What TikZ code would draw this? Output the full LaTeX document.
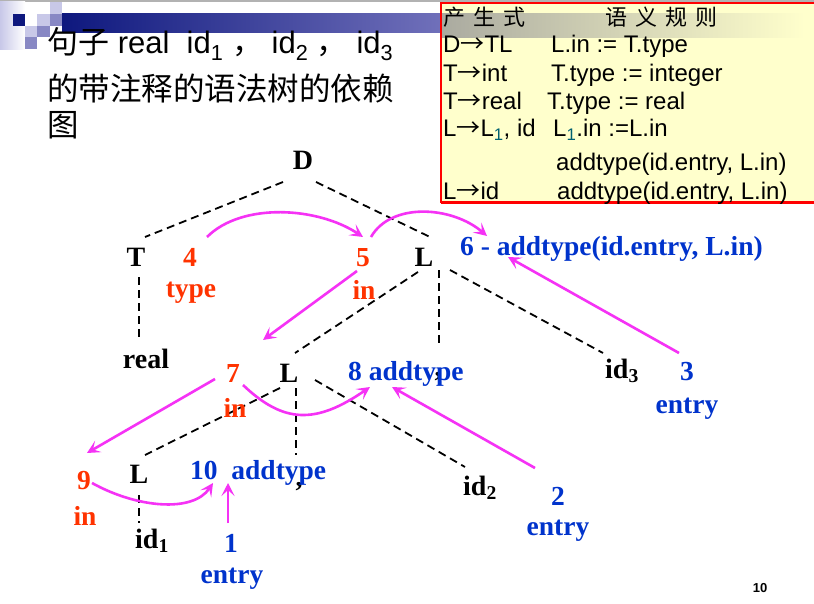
\documentclass[tikz,border=0pt]{standalone}
\usepackage{fontspec}
\setmainfont{Liberation Serif}
\setsansfont{Liberation Sans}
\newfontfamily\cjk{Noto Sans CJK SC}
\usetikzlibrary{arrows.meta}
\definecolor{attrred}{RGB}{255,51,0}
\definecolor{attrblue}{RGB}{0,51,204}
\definecolor{depline}{RGB}{245,50,245}
\definecolor{barnavy}{RGB}{14,24,126}
\definecolor{barend}{RGB}{112,112,186}
\definecolor{sqlight}{RGB}{200,200,232}
\definecolor{sqmid}{RGB}{136,136,196}
\definecolor{notefill}{RGB}{255,255,204}
\definecolor{bandgray}{RGB}{170,170,160}
\definecolor{subteal}{RGB}{0,96,112}
\newcommand{\prodarrow}{{\cjk →}}
\tikzstyle{sym} = [font=\bfseries\fontsize{28}{30}\selectfont, inner sep=0pt, anchor=base]
\tikzstyle{inh} = [font=\bfseries\fontsize{27.5}{29}\selectfont, text=attrred, inner sep=0pt, anchor=base]
\tikzstyle{syn} = [font=\bfseries\fontsize{27.5}{29}\selectfont, text=attrblue, inner sep=0pt, anchor=base]
\tikzstyle{ruletext} = [font=\sffamily\fontsize{24}{26}\selectfont, anchor=base west, inner sep=0pt]
\tikzstyle{headtext} = [font=\sffamily\fontsize{31}{33}\selectfont, anchor=base west, inner sep=0pt]
\tikzstyle{treeline} = [dash pattern=on 8pt off 5pt, line width=1.8pt]
\tikzstyle{dep} = [line width=2.6pt, ->, >={Stealth[length=13pt,width=13pt,inset=6pt]}, draw=depline]

\begin{document}
\begin{tikzpicture}[x=1pt, y=-1pt]
\useasboundingbox (0,0) rectangle (814,604);
\fill[white] (0,0) rectangle (814,604);

% slide decoration
\fill[gray!60] (0,0) rectangle (814,2);
\shade[left color=sqlight, right color=white] (0,2) rectangle (25,50);
\fill[barnavy] (13,14) rectangle (25,26);
\fill[sqlight] (50,2) rectangle (62,14);
\fill[sqlight] (37,14) rectangle (50,26);
\fill[sqmid] (50,14) rectangle (62,26);
\fill[sqlight] (25,26) rectangle (37,37);
\fill[sqmid] (37,26) rectangle (50,37);
\fill[sqmid] (25,37) rectangle (37,49);
\shade[left color=barnavy, right color=barend] (62,14) rectangle (441,33);

% rules table
\fill[notefill] (441,3) rectangle (814,203);
\shade[left color=bandgray, right color=notefill] (441,14) rectangle (805,38);
\draw[red, line width=1.5pt] (814,3) -- (441,3) -- (441,203);
\draw[red, line width=3pt] (441,203) -- (814,203);
\node (prodhead) [ruletext, font=\cjk\fontsize{22}{24}\selectfont] at (443,26) {产\hspace{8pt}生\hspace{8pt}式};
\node (semhead) [ruletext, font=\cjk\fontsize{22}{24}\selectfont] at (605,26) {语\hspace{8pt}义\hspace{8pt}规\hspace{8pt}则};
\node (p1) [ruletext] at (443,53) {D\prodarrow TL};
\node (s1) [ruletext] at (551,53) {L.in := T.type};
\node (p2) [ruletext] at (443,82) {T\prodarrow int};
\node (s2) [ruletext] at (551,82) {T.type := integer};
\node (p3) [ruletext] at (443,110) {T\prodarrow real};
\node (s3) [ruletext] at (547,110) {T.type := real};
\node (p4) [ruletext] at (443,137) {L\prodarrow L\textsubscript{\textcolor{subteal}{1}}, id};
\node (s4) [ruletext] at (553,137) {L\textsubscript{\textcolor{subteal}{1}}.in :=L.in};
\node (s4b) [ruletext] at (556,171) {addtype(id.entry, L.in)};
\node (p5) [ruletext] at (443,200) {L\prodarrow id};
\node (s5) [ruletext] at (557,200) {addtype(id.entry, L.in)};

% title
\node (title1) [headtext] at (47,54) {{\cjk 句子} real\ \ id\textsubscript{1}\ {\cjk ，}\ id\textsubscript{2}\ {\cjk ，}\ id\textsubscript{3}};
\node (title2) [headtext, font=\cjk\fontsize{31.5}{33}\selectfont] at (47,101) {的带注释的语法树的依赖};
\node (title3) [headtext, font=\cjk\fontsize{31.5}{33}\selectfont] at (47,137) {图};
\node (page) [font=\sffamily\bfseries\fontsize{13}{15}\selectfont, anchor=base] at (760,592) {10};

% parse tree
\node (D) [sym] at (303,170) {D};
\node (T) [sym] at (136,266) {T};
\node (Ltop) [sym] at (424,266) {L};
\node (real) [sym] at (146,368) {real};
\node (Lmid) [sym] at (289,382) {L};
\node (commaA) [sym] at (438,376) {,};
\node (idthree) [sym] at (622,378) {id\textsubscript{3}};
\node (Llow) [sym] at (139,483) {L};
\node (commaB) [sym] at (299,486) {,};
\node (idtwo) [sym] at (480,495) {id\textsubscript{2}};
\node (idone) [sym] at (152,548) {id\textsubscript{1}};

\draw [treeline] ([shift={(-20,12)}]D.base) -- ([shift={(9,-29)}]T.base);
\draw [treeline] ([shift={(13,12)}]D.base) -- ([shift={(6,-29)}]Ltop.base);
\draw [treeline] ([shift={(3,11)}]T.base) -- ([shift={(-7,-28)}]real.base);
\draw [treeline] ([shift={(-6,6)}]Ltop.base) -- ([shift={(6,-29)}]Lmid.base);
\draw [treeline] ([shift={(15,4)}]Ltop.base) -- ([shift={(1,-29)}]commaA.base);
\draw [treeline] ([shift={(26,4)}]Ltop.base) -- ([shift={(-19,-25)}]idthree.base);
\draw [treeline] ([shift={(-9,6)}]Lmid.base) -- ([shift={(6,-28)}]Llow.base);
\draw [treeline] ([shift={(7,6)}]Lmid.base) -- ([shift={(-3,-31)}]commaB.base);
\draw [treeline] ([shift={(26,-2)}]Lmid.base) -- ([shift={(-15,-28)}]idtwo.base);
\draw [treeline] ([shift={(0,12)}]Llow.base) -- ([shift={(-13,-25)}]idone.base);

% attributes
\node (num4) [inh] at (190,266) {4};
\node (type4) [inh] at (191,297) {type};
\node (num5) [inh] at (363,266) {5};
\node (in5) [inh] at (364,299) {in};
\node (num6) [syn, anchor=base west] at (460,255) {6 - addtype(id.entry, L.in)};
\node (num7) [inh] at (233,382) {7};
\node (in7) [inh] at (235,417) {in};
\node (num8) [syn, anchor=base west] at (348,380) {8 addtype};
\node (num9) [inh] at (84,489) {9};
\node (in9) [inh] at (85,525) {in};
\node (num10) [syn, anchor=base west] at (190,479) {10\ \ addtype};
\node (num1) [syn] at (231,552) {1};
\node (entry1) [syn] at (232,583) {entry};
\node (num2) [syn] at (558,505) {2};
\node (entry2) [syn] at (558,535) {entry};
\node (num3) [syn] at (687,380) {3};
\node (entry3) [syn] at (687,413) {entry};

% dependencies
\draw [dep] ([shift={(17,-29)}]num4.base) .. controls +(35,-35) and +(-45,-30) .. ([shift={(0,-29)}]num5.base);
\draw [dep] ([shift={(8,-29)}]num5.base) .. controls +(20,-35) and +(-35,-30) .. ([shift={(27,-19)}]num6.base west);
\draw [dep] ([shift={(-6,5)}]num5.base) -- ([shift={(30,-42)}]num7.base);
\draw [dep] ([shift={(-8,-27)}]num3.base) -- ([shift={(48,2)}]num6.base west);
\draw [dep] ([shift={(-18,-3)}]num7.base) -- ([shift={(3,-36)}]num9.base);
\draw [dep] ([shift={(10,3)}]num7.base) .. controls +(40,38) and +(-55,38) .. ([shift={(22,7)}]num8.base west);
\draw [dep] ([shift={(-23,-37)}]num2.base) -- ([shift={(44,7)}]num8.base west);
\draw [dep] ([shift={(8,-6)}]num9.base) .. controls +(45,25) and +(-20,30) .. ([shift={(23,4)}]num10.base west);
\draw [dep] ([shift={(-3,-29)}]num1.base) -- ([shift={(38,4)}]num10.base west);

\end{tikzpicture}
\end{document}
